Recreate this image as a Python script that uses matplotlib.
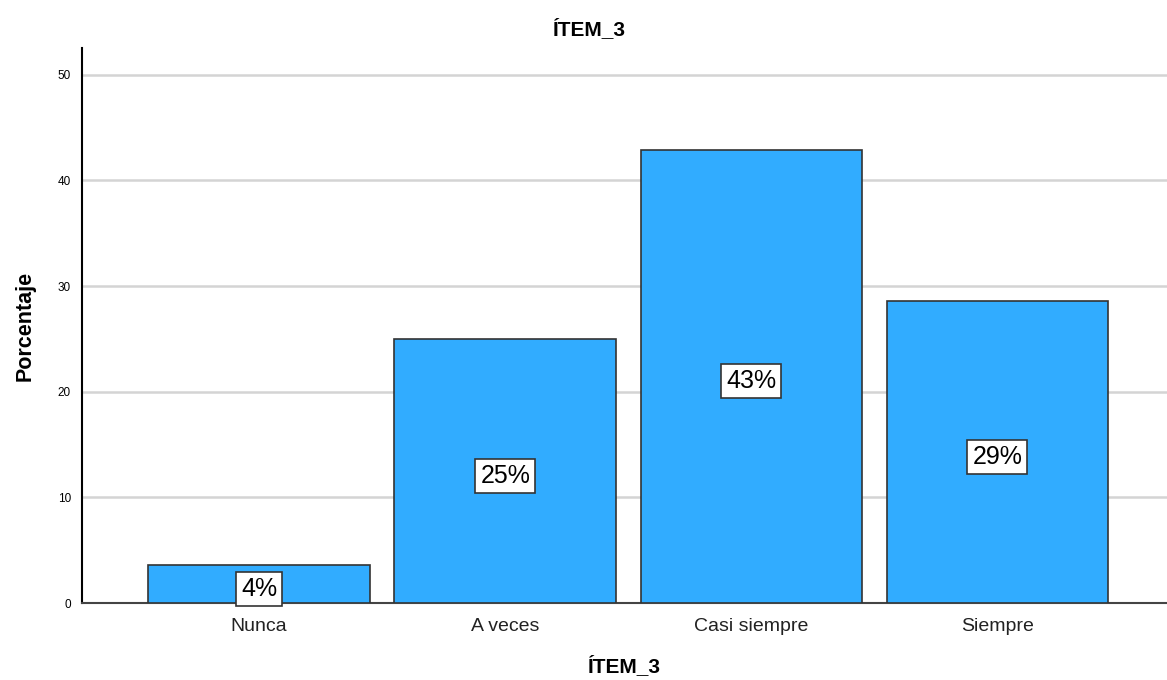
import matplotlib.pyplot as plt
import numpy as np

plt.rcParams['font.family'] = ['Liberation Sans', 'DejaVu Sans']

categories = ['Nunca', 'A veces', 'Casi siempre', 'Siempre']
percentages = [3.57, 25.0, 42.86, 28.57]
labels = ['4%', '25%', '43%', '29%']
yticks = [0, 10, 20, 30, 40, 50]

fig = plt.figure(figsize=(11.67, 6.8), dpi=100)
ax = fig.add_axes([0.0703, 0.1132, 0.9297, 0.8158])

x = np.arange(len(categories))
bars = ax.bar(x, percentages, width=0.9, color='#31acff', edgecolor='#333333',
              linewidth=1.2, zorder=3)

for xi, v, lab in zip(x, percentages, labels):
    ax.text(xi, v / 2 - 0.45, lab, ha='center', va='center', fontsize=18, zorder=4,
            bbox=dict(boxstyle='square,pad=0.2', facecolor='white',
                      edgecolor='#333333', linewidth=1.2))

ax.set_xlim(-0.72, 3.69)
ax.set_ylim(0, 52.5)
ax.set_yticks(yticks)
ax.set_xticks(x)
ax.set_xticklabels(categories, fontsize=14, color='#222222')
ax.tick_params(axis='y', labelsize=8.5, length=0, pad=8)
ax.tick_params(axis='x', length=0, pad=11)
ax.yaxis.grid(True, color='#d4d4d4', linewidth=1.8, zorder=0)
ax.set_axisbelow(True)

for s in ['top', 'right']:
    ax.spines[s].set_visible(False)
ax.spines['left'].set_linewidth(1.5)
ax.spines['bottom'].set_linewidth(1.5)
ax.spines['bottom'].set_color('#444444')

ax.set_ylabel('Porcentaje', fontsize=15.5, fontweight='bold', labelpad=16)
ax.set_xlabel('ÍTEM_3', fontsize=15, fontweight='bold', labelpad=14)
fig.text(0.505, 0.958, 'ÍTEM_3', ha='center', va='center', fontsize=15,
         fontweight='bold')

fig.savefig('out.png', dpi=100)
